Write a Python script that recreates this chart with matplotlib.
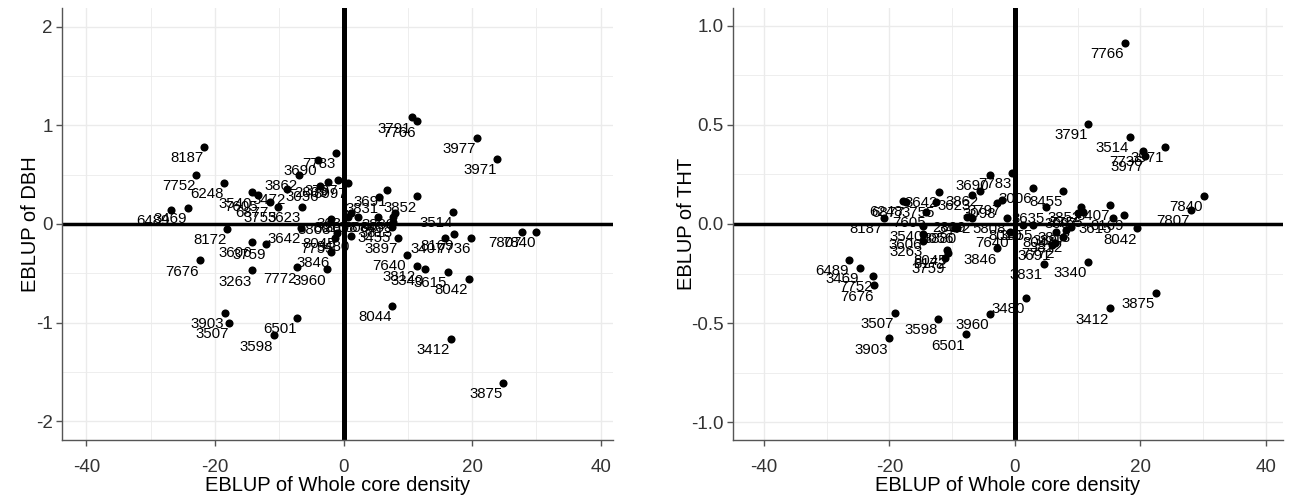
import matplotlib
matplotlib.use("Agg")
import matplotlib.pyplot as plt
from matplotlib.ticker import MultipleLocator

plt.rcParams['font.family'] = ['Liberation Sans', 'DejaVu Sans']

# ---------------- Left panel: EBLUP of DBH vs EBLUP of whole core density
dbh_labels = ["3791", "7766", "3977", "3971", "7783", "3690", "3797", "3097", "2809", "3862",
              "3472", "6248", "7752", "8187", "6489", "3469", "3540", "7605", "6877", "3755",
              "3623", "8172", "3606", "3759", "7676", "3263", "7772", "3960", "3846", "7755",
              "3642", "5808", "3480", "8010", "3903", "3507", "3598", "6501", "8044", "3412",
              "3875", "3812", "3340", "3615", "8042", "7640", "3897", "3455", "3407", "8169",
              "7736", "3514", "7807", "7840", "3691", "3831", "3852", "3635", "3098", "3006",
              "8455", "3813", "3880", "8045", "3056"]
dbh_x = [10.6, 11.4, 20.7, 23.9, -1.2, -4.0, -0.8, 0.7, -2.4, -7.0,
         -8.8, -18.6, -22.9, -21.7, -26.9, -24.2, -14.2, -13.3, -11.5, -10.2,
         -6.5, -18.1, -14.2, -12.0, -22.4, -14.2, -7.2, -2.6, -2.0, -1.35,
         -6.6, -1.9, 1.1, 0.7, -18.5, -17.8, -10.9, -7.2, 7.6, 16.7,
         24.8, 11.35, 12.6, 16.2, 19.5, 9.8, 8.5, 7.45, 15.75, 17.2,
         19.8, 17.05, 27.8, 30.0, 6.8, 5.5, 11.45, 1.1, 2.3, 5.4,
         7.7, 7.7, 8.0, -1.1, -3.7]
dbh_y = [1.08, 1.04, 0.87, 0.66, 0.72, 0.65, 0.45, 0.42, 0.43, 0.50,
         0.355, 0.42, 0.50, 0.78, 0.14, 0.165, 0.32, 0.29, 0.226, 0.175,
         0.175, -0.054, -0.18, -0.20, -0.37, -0.47, -0.44, -0.46, -0.285, -0.14,
         -0.04, 0.05, -0.12, 0.07, -0.905, -1.0, -1.13, -0.955, -0.83, -1.165,
         -1.61, -0.425, -0.46, -0.49, -0.555, -0.31, -0.14, -0.03, -0.145, -0.105,
         -0.14, 0.12, -0.084, -0.084, 0.34, 0.27, 0.28, 0.11, 0.07, 0.074,
         0.074, 0.023, 0.108, -0.094, 0.385]

# ---------------- Right panel: EBLUP of THT vs EBLUP of whole core density
tht_labels = ["7766", "3791", "3514", "7736", "3977", "3971", "7840", "7807", "8042", "3407",
              "3615", "8169", "8455", "3340", "3875", "3412", "3480", "3960", "3831", "6489",
              "3469", "7752", "7676", "3507", "3903", "3598", "6501", "8187", "6248", "6877",
              "7605", "3755", "3642", "3540", "3606", "3263", "3880", "8045", "3759", "8172",
              "3690", "7783", "3862", "3623", "3006", "3635", "3098", "3797", "2809", "3472",
              "5808", "3846", "7640", "8010", "3455", "8044", "3897", "3812", "3691", "7772",
              "3813", "3852", "7755", "3097", "3056"]
tht_x = [17.5, 11.7, 18.3, 20.4, 20.7, 23.9, 30.1, 28.0, 19.5, 15.2,
         15.6, 17.4, 7.7, 11.6, 22.4, 15.1, 1.7, -4.0, 4.6, -26.4,
         -24.7, -22.6, -22.4, -19.1, -20.1, -12.2, -7.8, -20.9, -17.8, -17.4,
         -14.1, -12.6, -12.1, -14.6, -14.7, -14.6, -9.2, -10.8, -11.1, -10.7,
         -4.0, -0.5, -5.6, -6.9, 2.9, 4.9, -2.9, -2.1, -7.7, -6.9,
         -1.3, -2.8, -0.8, 1.3, 2.9, 6.6, 8.2, 7.7, 5.9, 6.4,
         9.0, 10.6, 10.9, 10.1, -9.6]
tht_y = [0.914, 0.505, 0.44, 0.37, 0.343, 0.39, 0.141, 0.071, -0.022, 0.096,
         0.029, 0.045, 0.168, -0.19, -0.347, -0.426, -0.375, -0.455, -0.20, -0.18,
         -0.22, -0.26, -0.31, -0.45, -0.577, -0.48, -0.557, 0.029, 0.118, 0.113,
         0.062, 0.11, 0.163, -0.01, -0.05, -0.085, -0.02, -0.13, -0.17, -0.145,
         0.247, 0.256, 0.168, 0.146, 0.18, 0.084, 0.105, 0.121, 0.037, 0.029,
         0.029, -0.123, -0.04, -0.005, -0.005, -0.039, -0.03, -0.064, -0.106, -0.097,
         -0.014, 0.087, 0.062, 0.054, -0.02]

x_ticks = [-40, -20, 0, 20, 40]
left_yticks = [-2, -1, 0, 1, 2]
right_yticks = [-1.0, -0.5, 0.0, 0.5, 1.0]

W, H = 1291, 499
fig = plt.figure(figsize=(W / 100, H / 100), dpi=100)
axL = fig.add_axes([62 / W, 1 - 440 / H, (613 - 62) / W, (440 - 8) / H])
axR = fig.add_axes([733 / W, 1 - 440 / H, (1283 - 733) / W, (440 - 8) / H])

grid_col = '#ebebeb'
text_col = '#333333'


def style(ax, xlim, ylim, yticks, ylabel, yminor, yfmt):
    ax.set_xlim(*xlim)
    ax.set_ylim(*ylim)
    ax.set_xticks(x_ticks)
    ax.set_xticklabels([str(t) for t in x_ticks])
    ax.set_yticks(yticks)
    ax.set_yticklabels([yfmt(t) for t in yticks])
    ax.xaxis.set_minor_locator(MultipleLocator(10))
    ax.yaxis.set_minor_locator(MultipleLocator(yminor))
    ax.grid(True, which='major', color=grid_col, linewidth=1.0, zorder=0)
    ax.grid(True, which='minor', color=grid_col, linewidth=0.6, zorder=0)
    ax.set_axisbelow(True)
    for s in ['top', 'right']:
        ax.spines[s].set_visible(False)
    for s in ['left', 'bottom']:
        ax.spines[s].set_color('#555555')
        ax.spines[s].set_linewidth(1.0)
    ax.tick_params(which='major', direction='out', length=4.5, width=1.0, color='#555555',
                   labelsize=13.5, labelcolor=text_col)
    ax.tick_params(axis='x', which='major', pad=9)
    ax.tick_params(axis='y', which='major', pad=2)
    ax.tick_params(which='minor', length=0)
    ax.set_xlabel('EBLUP of Whole core density', fontsize=14.5, color='black', labelpad=0.5)
    ax.set_ylabel(ylabel, fontsize=14.5, color='black', labelpad=-3)
    ax.axvline(0, color='black', linewidth=3.6, zorder=2)
    ax.axhline(0, color='black', linewidth=2.5, zorder=2)


style(axL, (-43.8, 41.9), (-2.19, 2.19), left_yticks, 'EBLUP of DBH', 0.5, lambda t: f"{t:d}")
style(axR, (-44.9, 42.7), (-1.09, 1.09), right_yticks, 'EBLUP of THT', 0.25, lambda t: f"{t:.1f}")


def draw(ax, xs, ys, labels):
    ax.scatter(xs, ys, s=34, color='black', zorder=3, linewidths=0)
    for x, y, lab in zip(xs, ys, labels):
        ax.annotate(lab, (x, y), xytext=(-0.5, -3), textcoords='offset points',
                    ha='right', va='top', fontsize=10.8, color='black', zorder=4)


draw(axL, dbh_x, dbh_y, dbh_labels)
draw(axR, tht_x, tht_y, tht_labels)

fig.savefig('out.png', dpi=100)
